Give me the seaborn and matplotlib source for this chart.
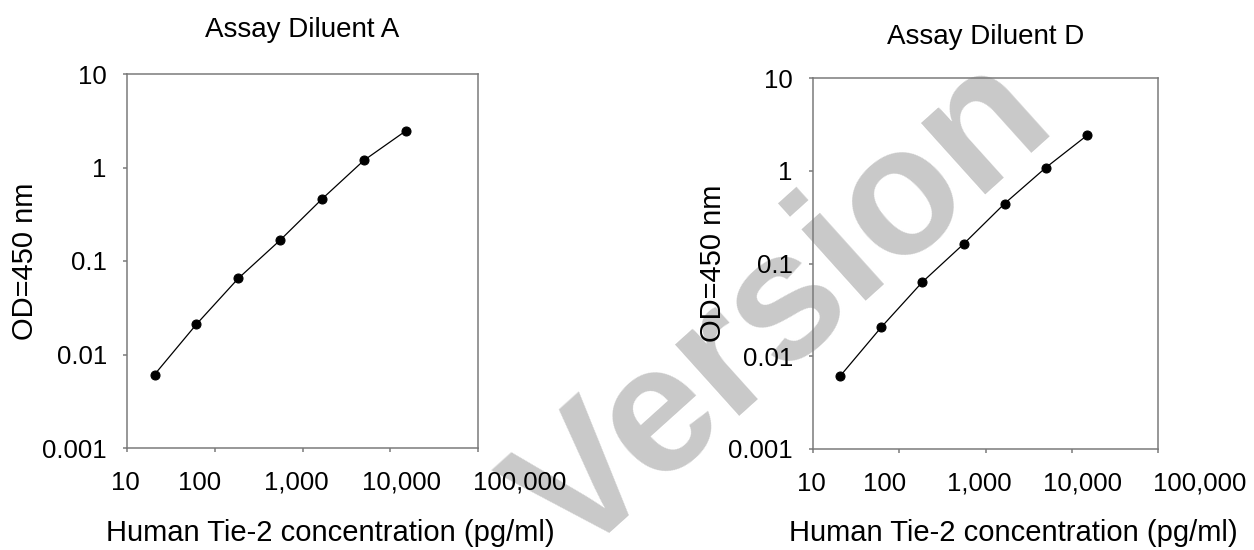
import numpy as np
import pandas as pd
import seaborn as sns
import matplotlib
matplotlib.use("Agg")
import matplotlib.pyplot as plt
from matplotlib.transforms import ScaledTranslation

# ---- data ----
conc = [20.6, 61.7, 185, 556, 1667, 5000, 15000]
od_a = [0.0061, 0.021, 0.065, 0.167, 0.46, 1.19, 2.46]
od_d = [0.0061, 0.0205, 0.063, 0.162, 0.443, 1.08, 2.40]
titles = ["Assay Diluent A", "Assay Diluent D"]
x_ticks = [10, 100, 1000, 10000, 100000]
x_ticklabels = ["10", "100", "1,000", "10,000", "100,000"]
y_ticks = [0.001, 0.01, 0.1, 1, 10]
y_ticklabels = ["0.001", "0.01", "0.1", "1", "10"]
xlabel = "Human Tie-2 concentration (pg/ml)"
ylabel = "OD=450 nm"
watermark = "Version"

sns.set_theme(style="white")
plt.rcParams["font.family"] = ["Liberation Sans", "DejaVu Sans"]

DPI = 100
fig = plt.figure(figsize=(12.54, 5.5), dpi=DPI)
fig.patch.set_facecolor("white")

W, H = 1254, 550
boxes = [(127, 74, 478, 448), (813, 78, 1158, 449)]
title_pads = [26.5, 24.5]
label_dx = [-2, -15, -6, 11, 42]
spine_col = "#7a7a7a"

# watermark (behind everything)
fig.text(785 / W, 1 - 310 / H, watermark, fontsize=130, fontweight="bold",
         color="#c9c9c9", rotation=42, ha="center", va="center",
         rotation_mode="anchor", zorder=-5)

for i, (title, od) in enumerate(zip(titles, [od_a, od_d])):
    x0, y0, x1, y1 = boxes[i]
    ax = fig.add_axes([x0 / W, 1 - y1 / H, (x1 - x0) / W, (y1 - y0) / H])
    ax.set_facecolor("none")
    df = pd.DataFrame({"conc": conc, "od": od})
    sns.lineplot(data=df, x="conc", y="od", ax=ax, color="black", lw=0.9,
                 marker="o", markersize=6.5, markeredgecolor="black",
                 markerfacecolor="black", estimator=None, sort=False)
    ax.set_xscale("log")
    ax.set_yscale("log")
    ax.set_xlim(10, 100000)
    ax.set_ylim(0.001, 10)
    ax.set_xticks(x_ticks)
    ax.set_xticklabels(x_ticklabels)
    ax.set_yticks(y_ticks)
    ax.set_yticklabels(y_ticklabels)
    ax.minorticks_off()
    for s in ax.spines.values():
        s.set_visible(True)
        s.set_color(spine_col)
        s.set_linewidth(1.1)
    ax.tick_params(axis="both", which="major", direction="out", length=3,
                   width=1.1, color=spine_col, labelcolor="black",
                   labelsize=18.5, bottom=True, left=True)
    ax.tick_params(axis="x", pad=13.5)
    ax.tick_params(axis="y", pad=11.5)
    for lab, dx in zip(ax.get_xticklabels(), label_dx):
        lab.set_transform(lab.get_transform() +
                          ScaledTranslation(dx / DPI, 0, fig.dpi_scale_trans))
    ax.set_title(title, fontsize=20, pad=title_pads[i], color="black")
    ax.set_xlabel(xlabel, fontsize=21, color="black")
    ax.set_ylabel(ylabel, fontsize=21, color="black")
    ax.xaxis.set_label_coords(0.5 + 28 / (x1 - x0), -0.19)
    ax.yaxis.set_label_coords(-0.25, 0.5)

fig.savefig("out.png", dpi=DPI, facecolor="white")
